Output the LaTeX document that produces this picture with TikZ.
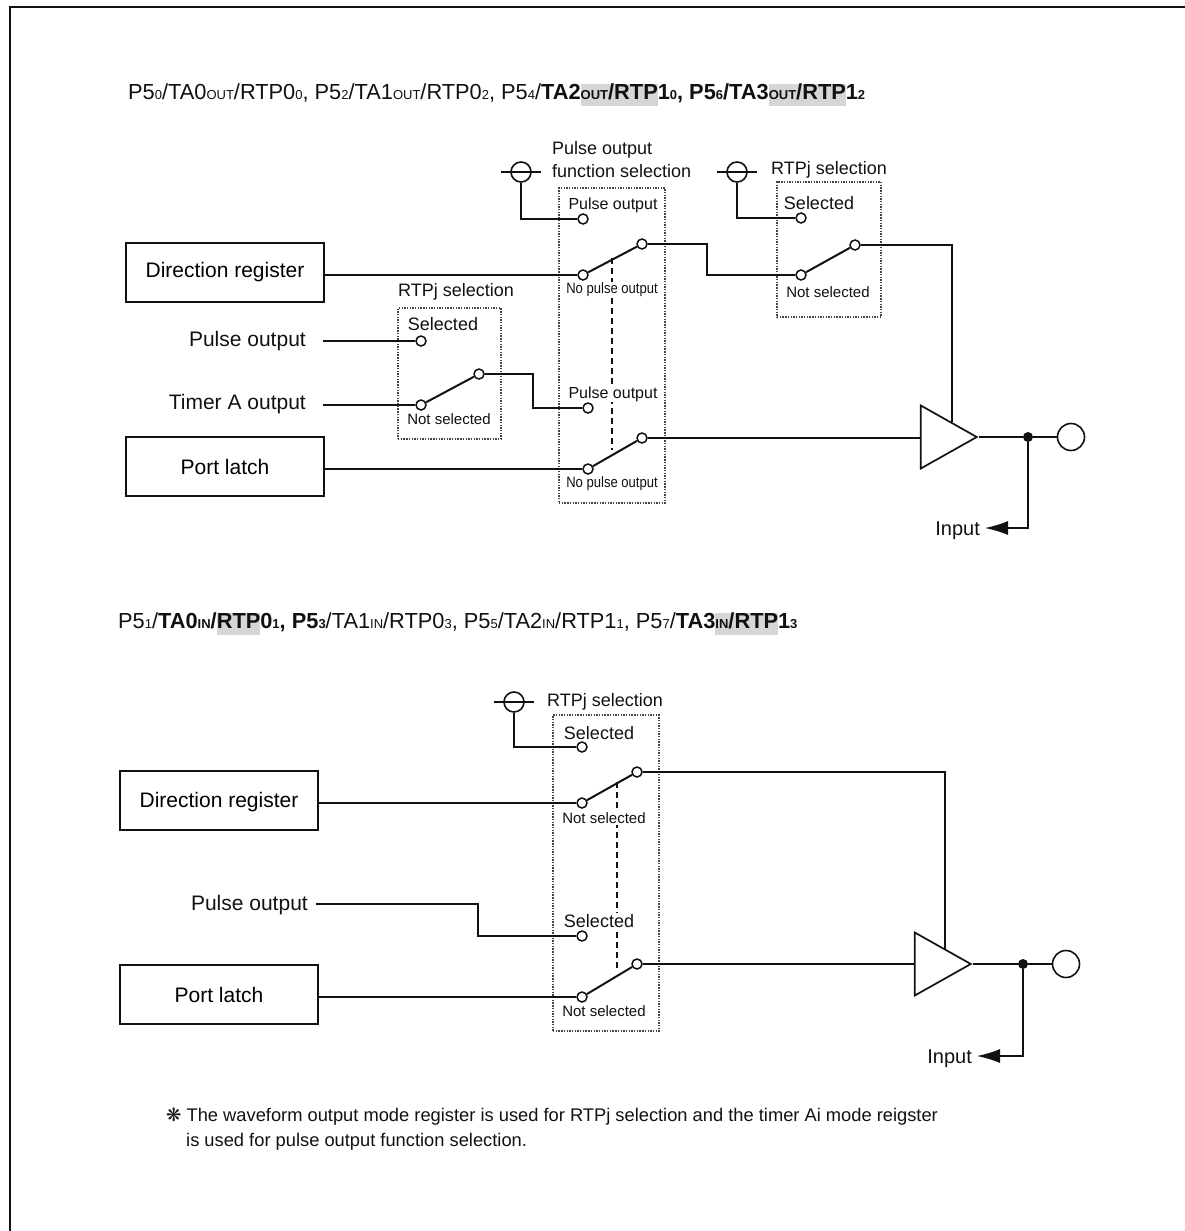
\documentclass[tikz,border=0pt]{standalone}
\usepackage{fontspec}
\setmainfont{Liberation Sans}
\newfontfamily\narrowfont[FakeStretch=.87]{Liberation Sans}
\newfontfamily\symfont{DejaVu Sans}
\usetikzlibrary{arrows.meta,calc,shapes.geometric}
\newcommand{\fsz}[1]{\fontsize{#1}{#1}\selectfont}
\newcommand{\sbs}[1]{{\fsz{13}#1}}
\definecolor{ink}{HTML}{111111}
\definecolor{dotbox}{HTML}{444444}
\setlength{\fboxsep}{0pt}
\newcommand{\shd}[1]{\colorbox{black!16}{\strut #1}}
\tikzset{
  wire/.style={draw=ink,line width=1.3pt},
  link/.style={wire,line width=2pt},
  ganged/.style={wire,dash pattern=on 6pt off 4pt},
  regbox/.style={draw=ink,line width=2.2pt,minimum width=198pt,minimum height=59pt,inner sep=0pt,font=\fsz{21}},
  selbox/.style={draw=dotbox,line width=2.4pt,dash pattern=on 1.4pt off 1.3pt,inner sep=0pt},
  term/.style={circle,draw=ink,line width=1.5pt,fill=white,minimum size=10pt,inner sep=0pt},
  vcc/.style={circle,draw=ink,line width=1.6pt,minimum size=20pt,inner sep=0pt},
  pin/.style={circle,draw=ink,line width=1.6pt,minimum size=27pt,inner sep=0pt},
  junc/.style={circle,fill=ink,minimum size=10pt,inner sep=0pt},
  buf/.style={isosceles triangle,isosceles triangle stretches,draw=ink,line width=1.7pt,shape border rotate=0,minimum width=63pt,minimum height=56pt,inner sep=0pt,anchor=apex},
  lab/.style={inner sep=0pt,text=ink,font=\fsz{21}},
  inlab/.style={lab,anchor=east,inner xsep=5pt,text height=18.5pt,font=\fsz{20}},
  capt/.style={inner sep=0pt,text=ink,font=\fsz{18}},
  swl/.style={inner sep=1pt,fill=white,text=ink,font=\fsz{18}},
  swm/.style={swl,font=\fsz{16}},
  swn/.style={swl,font=\fsz{15}},
  swc/.style={swl,font=\narrowfont\fsz{15}},
  head/.style={inner sep=0pt,anchor=west,text=ink,font=\fsz{21.8}},
  note/.style={inner sep=0pt,anchor=west,text=ink,font=\fsz{18.3}},
}
\begin{document}
\begin{tikzpicture}[x=1pt,y=-1pt]
\useasboundingbox (0,0) rectangle (1185,1231);
\coordinate (fa) at (10,1231);
\coordinate (fb) at (10,7);
\coordinate (fc) at (1185,7);
\draw[wire,line width=2.2pt] (fa) -- (fb) -- (fc);
% upper circuit
\node[head] (h1) at (128,95) {P5\sbs{0}/TA0\sbs{OUT}/RTP0\sbs{0}, P5\sbs{2}/TA1\sbs{OUT}/RTP0\sbs{2}, P5\sbs{4}/\textbf{TA2\shd{\sbs{OUT}/RTP}1\sbs{0}, P5\sbs{6}/TA3\shd{\sbs{OUT}/RTP}1\sbs{2}}};
\node[regbox] (dr) at (225,272.5) {Direction register};
\node[regbox] (pl) at (225,466.5) {Port latch};
\node[selbox,minimum width=103pt,minimum height=131pt] (sa) at (449.5,373.5) {};
\node[selbox,minimum width=106pt,minimum height=315pt] (sb) at (612,345.5) {};
\node[selbox,minimum width=104pt,minimum height=135pt] (sc) at (829,249.5) {};
\node[lab,anchor=east] (po) at (306,341) {Pulse output};
\node[lab,anchor=east] (ta) at (306,404) {Timer A output};
\coordinate (pc) at (323,341);
\coordinate (tc) at (323,405);
\node[term] (a1) at (421,341) {};
\node[term] (a2) at (421,405) {};
\node[term] (a3) at (479,374) {};
\node[term] (b1) at (583,219) {};
\node[term] (b2) at (583,275) {};
\node[term] (b3) at (642,244) {};
\node[term] (b4) at (588,408) {};
\node[term] (b5) at (588,469) {};
\node[term] (b6) at (642,438) {};
\node[term] (c1) at (801,218) {};
\node[term] (c2) at (801,275) {};
\node[term] (c3) at (855,245) {};
\node[vcc] (v1) at (521,172) {};
\node[vcc] (v2) at (737,172) {};
\node[buf] (bu) at (979,437) {};
\node[junc] (jn) at (1028,437) {};
\node[pin] (ou) at (1071,437) {};
\coordinate (bt) at (952,422);
\draw[ganged] (612,258) -- (612,450);
\foreach \u/\v in {a2/a3,b2/b3,b5/b6,c2/c3} \draw[link] (\u)--(\v);
\foreach \u/\v in {pc/a1,tc/a2} \draw[wire] (\u)--(\v);
\draw[wire] (dr.east |- b2) -- (b2);
\draw[wire] (pl.east |- b5) -- (b5);
\draw[wire] (a3) -- (533,374) -- (533,408) -- (b4);
\draw[wire] (b3) -- (707,244) -- (707,275) -- (c2);
\draw[wire] (v1) -- (521,219) -- (b1);
\draw[wire] (v2) -- (737,218) -- (c1);
\draw[wire] (c3) -| (bt);
\draw[wire] (b6) -- (bu.lower side |- b6);
\draw[wire] (bu.apex) -- (jn) -- (ou);
\node[inlab] (i1) at (985,528) {Input};
\draw[wire,-{Latex[length=23pt,width=14pt]}] (jn) |- (i1);
\node[capt] (t1) at (456,292) {RTPj selection};
\node[capt,align=left,anchor=west] (t2) at (552,160) {Pulse output\\[5pt]function selection};
\node[capt] (t3) at (829,170) {RTPj selection};
\node[swl] (l1) at (443,324) {Selected};
\node[swn] (l2) at (449,419) {Not selected};
\node[swl,fill=none] (l3) at (819,203) {Selected};
\node[swn] (l4) at (828,292) {Not selected};
\node[swm] (l5) at (613,205) {Pulse output};
\node[swc] (l6) at (612,290) {No pulse output};
\node[swm] (l7) at (613,394) {Pulse output};
\node[swc] (l8) at (612,484) {No pulse output};
% lower circuit
\node[head] (h2) at (118,624) {P5\sbs{1}/\textbf{TA0\sbs{IN}/\shd{RTP}0\sbs{1}, P5\sbs{3}}/TA1\sbs{IN}/RTP0\sbs{3}, P5\sbs{5}/TA2\sbs{IN}/RTP1\sbs{1}, P5\sbs{7}/\textbf{TA3\shd{\sbs{IN}/RTP}1\sbs{3}}};
\node[regbox,text height=19pt] (dq) at (219,800.5) {Direction register};
\node[regbox] (pq) at (219,994.5) {Port latch};
\node[selbox,minimum width=106pt,minimum height=316pt] (sd) at (606,873) {};
\node[lab,anchor=east] (pr) at (308,905) {Pulse output};
\coordinate (pd) at (316,904);
\node[term] (d1) at (582,747) {};
\node[term] (d2) at (582,803) {};
\node[term] (d3) at (637,772) {};
\node[term] (d4) at (582,936) {};
\node[term] (d5) at (582,997) {};
\node[term] (d6) at (637,964) {};
\node[vcc] (v3) at (514,702) {};
\node[buf] (bv) at (973,964) {};
\node[junc] (jq) at (1023,964) {};
\node[pin] (oq) at (1066,964) {};
\coordinate (bq) at (945,949);
\draw[ganged] (617,782) -- (617,968);
\foreach \u/\v in {d2/d3,d5/d6} \draw[link] (\u)--(\v);
\draw[wire] (dq.east |- d2) -- (d2);
\draw[wire] (pq.east |- d5) -- (d5);
\draw[wire] (pd) -- (478,904) -- (478,936) -- (d4);
\draw[wire] (v3) -- (514,747) -- (d1);
\draw[wire] (d3) -| (bq);
\draw[wire] (d6) -- (bv.lower side |- d6);
\draw[wire] (bv.apex) -- (jq) -- (oq);
\node[inlab] (i2) at (977,1056) {Input};
\draw[wire,-{Latex[length=23pt,width=14pt]}] (jq) |- (i2);
\node[capt] (t4) at (605,702) {RTPj selection};
\node[swl,fill=none] (n1) at (599,733) {Selected};
\node[swn] (n2) at (604,818) {Not selected};
\node[swl] (n3) at (599,921) {Selected};
\node[swn] (n4) at (604,1011) {Not selected};
% stubs for the power symbols
\foreach \n in {v1,v2,v3} \draw[wire] ([xshift=-9pt]\n.west) -- ([xshift=9pt]\n.east);
\node[note] (n5) at (166,1117) {{\symfont ❋} The waveform output mode register is used for RTPj selection and the timer Ai mode reigster};
\node[note] (n6) at (186,1142) {is used for pulse output function selection.};
\end{tikzpicture}
\end{document}
